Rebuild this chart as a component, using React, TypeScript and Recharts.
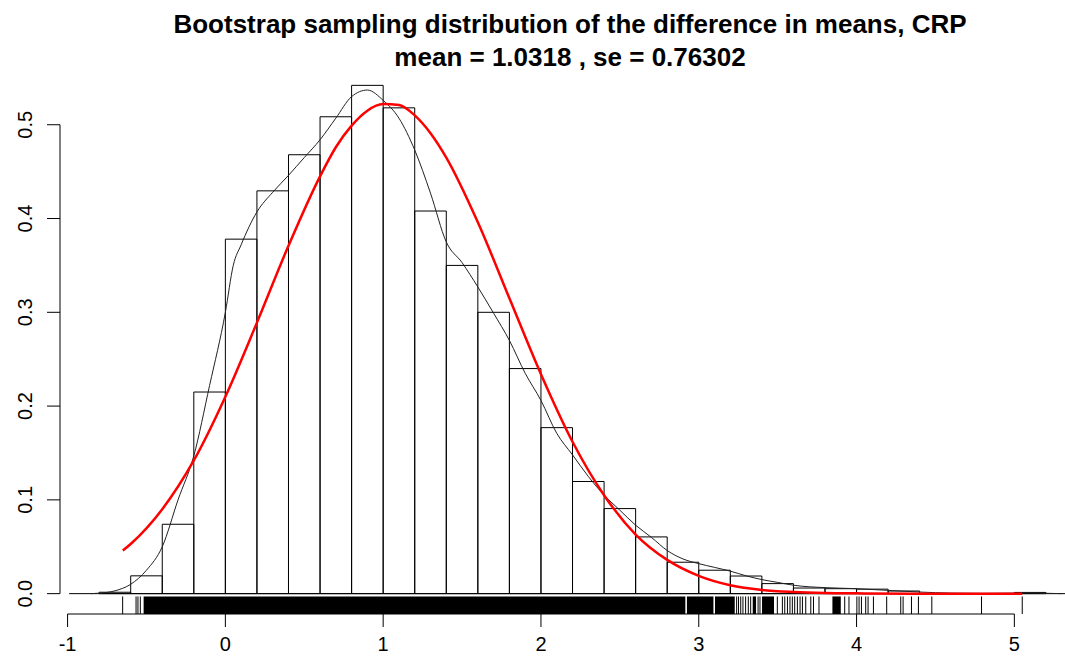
import React from 'react';
import {
    ComposedChart,
    Line,
    XAxis,
    YAxis,
    ReferenceArea,
    ReferenceLine,
} from 'recharts';

const TITLE = 'Bootstrap sampling distribution of the difference in means, CRP';
const SUBTITLE = 'mean = 1.0318 , se = 0.76302';

// histogram (density scale), bins of width 0.2
const BIN_WIDTH = 0.2;
const BIN_LEFT = [-0.8, -0.6, -0.4, -0.2, 0.0, 0.2, 0.4, 0.6, 0.8, 1.0, 1.2, 1.4, 1.6, 1.8, 2.0, 2.2, 2.4, 2.6, 2.8, 3.0, 3.2, 3.4, 3.6, 3.8, 4.0, 4.2, 5.0];
const BIN_DENSITY = [0.0015, 0.019, 0.074, 0.215, 0.378, 0.4295, 0.468, 0.5085, 0.542, 0.518, 0.408, 0.35, 0.3, 0.24, 0.177, 0.1196, 0.0907, 0.0605, 0.0335, 0.025, 0.0188, 0.0107, 0.006, 0.0053, 0.0048, 0.0028, 0.0013];

// kernel density estimate (thin black line)
const KDE_X = [-0.85, -0.8, -0.7, -0.6, -0.5, -0.4, -0.3, -0.2, -0.1, 0.0, 0.05, 0.1, 0.2, 0.3, 0.4, 0.5, 0.6, 0.7, 0.8, 0.9, 1.0, 1.1, 1.2, 1.3, 1.4, 1.5, 1.6, 1.7, 1.8, 1.9, 2.0, 2.1, 2.2, 2.3, 2.4, 2.5, 2.6, 2.7, 2.8, 2.9, 3.0, 3.1, 3.2, 3.3, 3.4, 3.5, 3.6, 3.8, 4.0, 4.2, 4.4, 4.6, 4.8, 5.0, 5.1, 5.2, 5.3];
const KDE_Y = [0, 0.0005, 0.003, 0.01, 0.025, 0.05, 0.1, 0.147, 0.222, 0.3, 0.35, 0.372, 0.407, 0.428, 0.446, 0.465, 0.484, 0.507, 0.53, 0.537, 0.526, 0.507, 0.473, 0.427, 0.375, 0.353, 0.327, 0.299, 0.27, 0.235, 0.206, 0.171, 0.148, 0.125, 0.105, 0.089, 0.073, 0.06, 0.046, 0.037, 0.032, 0.028, 0.024, 0.019, 0.015, 0.012, 0.009, 0.0064, 0.0053, 0.0035, 0.0017, 0.0006, 0.0003, 0.0006, 0.001, 0.0004, 0];

// normal curve (red)
const NORM_X = [-0.65, -0.6, -0.4, -0.2, 0.0, 0.2, 0.4, 0.6, 0.7, 0.8, 0.9, 1.0, 1.1, 1.2, 1.3, 1.4, 1.6, 1.8, 2.0, 2.2, 2.4, 2.6, 2.8, 3.0, 3.2, 3.4, 3.6, 3.8, 4.0, 4.4, 5.05];
const NORM_Y = [0.046, 0.053, 0.09, 0.142, 0.21, 0.289, 0.371, 0.445, 0.476, 0.499, 0.515, 0.522, 0.521, 0.51, 0.491, 0.465, 0.396, 0.315, 0.234, 0.162, 0.105, 0.063, 0.036, 0.019, 0.009, 0.004, 0.0018, 0.0007, 0.0003, 0, 0];

// rug: solid runs and single ticks
const RUG_BLOCKS = [[-0.518, 2.915], [2.925, 3.093], [3.103, 3.228], [3.342, 3.363], [3.401, 3.477], [3.847, 3.9]];
const RUG_TICKS = [-0.651, -0.566, -0.554, -0.539, 3.24, 3.252, 3.266, 3.28, 3.297, 3.314, 3.329, 3.376, 3.388, 3.498, 3.53, 3.545, 3.562, 3.578, 3.593, 3.608, 3.625, 3.642, 3.657, 3.678, 3.71, 3.727, 3.762, 3.925, 3.952, 4.002, 4.016, 4.031, 4.058, 4.073, 4.107, 4.191, 4.28, 4.295, 4.348, 4.392, 4.477, 4.792, 5.05];

const X_TICKS = [-1, 0, 1, 2, 3, 4, 5];
const Y_TICKS = [0, 0.1, 0.2, 0.3, 0.4, 0.5];

const X_DOMAIN = [-1.048, 5.321];
const Y_DOMAIN = [-0.0217, 0.5637];
const RUG_TOP = -0.003;

const FONT = '"Liberation Sans", Arial, sans-serif';

const kdeData = KDE_X.map((x, i) => ({ x, y: KDE_Y[i] }));
const normData = NORM_X.map((x, i) => ({ x, y: NORM_Y[i] }));

function YTick(props: any) {
    const { x, y, payload } = props;
    return (
        <text
            transform={`translate(${x - 20},${y}) rotate(-90)`}
            textAnchor="middle"
            dominantBaseline="central"
            fontSize={20}
            fontFamily={FONT}
            fill="#000"
        >
            {payload.value.toFixed(1)}
        </text>
    );
}

export default function App() {
    return (
        <div style={{ position: 'absolute', left: 0, top: 0, width: 1065, height: 664, background: '#fff' }}>
            <div
                style={{
                    position: 'absolute',
                    top: 8,
                    left: 0,
                    width: 1140,
                    textAlign: 'center',
                    fontFamily: FONT,
                    fontWeight: 'bold',
                    fontSize: 26,
                    lineHeight: '33px',
                    color: '#000',
                }}
            >
                <div>{TITLE}</div>
                <div>{SUBTITLE}</div>
            </div>
            <ComposedChart width={1065} height={664} margin={{ top: 65, right: 0, bottom: 0, left: 0 }}>
                <XAxis
                    type="number"
                    dataKey="x"
                    domain={X_DOMAIN}
                    ticks={X_TICKS}
                    interval={0}
                    allowDataOverflow
                    height={50}
                    axisLine={false}
                    tickSize={13}
                    tickMargin={10}
                    tickLine={{ stroke: '#000' }}
                    tick={{ fill: '#000', fontSize: 20, fontFamily: FONT }}
                />
                <YAxis
                    type="number"
                    dataKey="y"
                    domain={Y_DOMAIN}
                    ticks={Y_TICKS}
                    interval={0}
                    allowDataOverflow
                    width={60}
                    axisLine={false}
                    tickSize={13}
                    tickLine={{ stroke: '#000' }}
                    tick={<YTick />}
                />
                {/* axes lines, R style */}
                <ReferenceLine segment={[{ x: X_DOMAIN[0], y: 0 }, { x: X_DOMAIN[0], y: 0.5 }]} stroke="#000" strokeWidth={1} ifOverflow="visible" />
                <ReferenceLine segment={[{ x: -1, y: Y_DOMAIN[0] }, { x: 5, y: Y_DOMAIN[0] }]} stroke="#000" strokeWidth={1} ifOverflow="visible" />
                <ReferenceLine segment={[{ x: -0.99, y: 0 }, { x: X_DOMAIN[1], y: 0 }]} stroke="#000" strokeWidth={1} ifOverflow="visible" />

                {BIN_LEFT.map((x0, i) => (
                    <ReferenceArea
                        key={`bin-${i}`}
                        x1={x0}
                        x2={x0 + BIN_WIDTH}
                        y1={0}
                        y2={BIN_DENSITY[i]}
                        fill="none"
                        stroke="#000"
                        strokeWidth={1}
                        ifOverflow="visible"
                    />
                ))}

                {RUG_BLOCKS.map(([a, b], i) => (
                    <ReferenceArea
                        key={`rb-${i}`}
                        x1={a}
                        x2={b}
                        y1={Y_DOMAIN[0]}
                        y2={RUG_TOP}
                        fill="#000"
                        fillOpacity={1}
                        stroke="none"
                        ifOverflow="visible"
                    />
                ))}
                {RUG_TICKS.map((v, i) => (
                    <ReferenceLine
                        key={`rt-${i}`}
                        segment={[{ x: v, y: Y_DOMAIN[0] }, { x: v, y: RUG_TOP }]}
                        stroke="#000"
                        strokeWidth={1}
                        ifOverflow="visible"
                    />
                ))}

                <Line
                    data={kdeData}
                    dataKey="y"
                    type="monotone"
                    stroke="#222"
                    strokeWidth={1}
                    dot={false}
                    activeDot={false}
                    isAnimationActive={false}
                />
                <Line
                    data={normData}
                    dataKey="y"
                    type="monotone"
                    stroke="#ff0000"
                    strokeWidth={2.5}
                    dot={false}
                    activeDot={false}
                    isAnimationActive={false}
                />
            </ComposedChart>
        </div>
    );
}
